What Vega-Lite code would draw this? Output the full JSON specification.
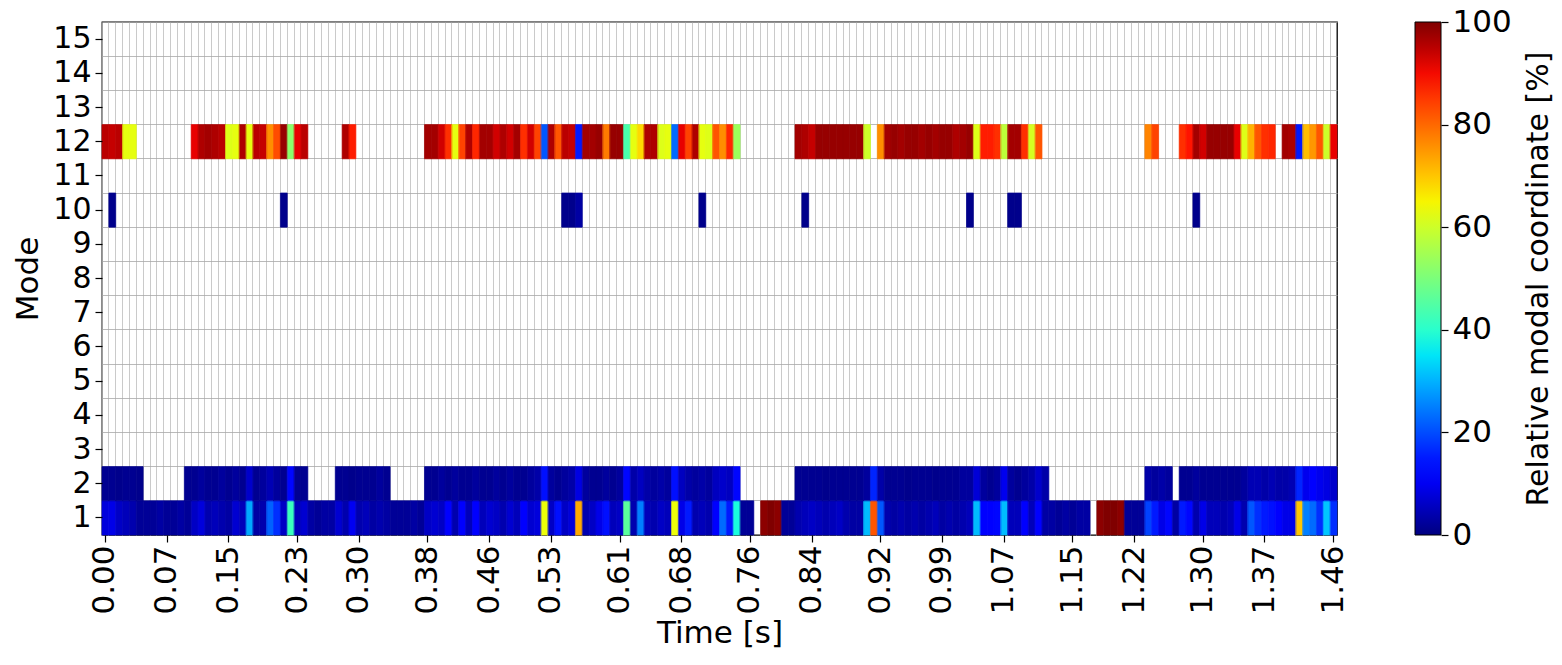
{
"$schema":"https://vega.github.io/schema/vega-lite/v6.json",
"width":1235,"height":513,
"autosize":{"type":"none"},
"padding":{"left":102,"top":22,"right":225,"bottom":130},
"background":"white",
"config":{"font":"DejaVu Sans","view":{"stroke":"black","strokeWidth":1.3},
"axis":{"labelFont":"DejaVu Sans","titleFont":"DejaVu Sans","labelColor":"black","titleColor":"black","titleFontWeight":"normal","tickColor":"black"},
"legend":{"labelFont":"DejaVu Sans","titleFont":"DejaVu Sans","titleFontWeight":"normal","labelColor":"black","titleColor":"black"}},
"data":{"values":[
{"i":0,"m":1,"v":8},{"i":1,"m":1,"v":9},{"i":2,"m":1,"v":6},{"i":3,"m":1,"v":5},{"i":4,"m":1,"v":4},{"i":5,"m":1,"v":2},{"i":6,"m":1,"v":2},{"i":7,"m":1,"v":2},{"i":8,"m":1,"v":3},{"i":9,"m":1,"v":2},
{"i":10,"m":1,"v":2},{"i":11,"m":1,"v":3},{"i":12,"m":1,"v":2},{"i":13,"m":1,"v":6},{"i":14,"m":1,"v":8},{"i":15,"m":1,"v":4},{"i":16,"m":1,"v":5},{"i":17,"m":1,"v":4},{"i":18,"m":1,"v":3},{"i":19,"m":1,"v":7},
{"i":20,"m":1,"v":5},{"i":21,"m":1,"v":29},{"i":22,"m":1,"v":3},{"i":23,"m":1,"v":4},{"i":24,"m":1,"v":22},{"i":25,"m":1,"v":17},{"i":26,"m":1,"v":6},{"i":27,"m":1,"v":42},{"i":28,"m":1,"v":5},{"i":29,"m":1,"v":7},
{"i":30,"m":1,"v":3},{"i":31,"m":1,"v":2},{"i":32,"m":1,"v":3},{"i":33,"m":1,"v":3},{"i":34,"m":1,"v":7},{"i":35,"m":1,"v":4},{"i":36,"m":1,"v":10},{"i":37,"m":1,"v":4},{"i":38,"m":1,"v":5},{"i":39,"m":1,"v":3},
{"i":40,"m":1,"v":4},{"i":41,"m":1,"v":3},{"i":42,"m":1,"v":2},{"i":43,"m":1,"v":2},{"i":44,"m":1,"v":2},{"i":45,"m":1,"v":3},{"i":46,"m":1,"v":2},{"i":47,"m":1,"v":6},{"i":48,"m":1,"v":7},{"i":49,"m":1,"v":6},
{"i":50,"m":1,"v":11},{"i":51,"m":1,"v":4},{"i":52,"m":1,"v":12},{"i":53,"m":1,"v":5},{"i":54,"m":1,"v":12},{"i":55,"m":1,"v":5},{"i":56,"m":1,"v":7},{"i":57,"m":1,"v":6},{"i":58,"m":1,"v":4},{"i":59,"m":1,"v":7},
{"i":60,"m":1,"v":5},{"i":61,"m":1,"v":11},{"i":62,"m":1,"v":7},{"i":63,"m":1,"v":8},{"i":64,"m":1,"v":64},{"i":65,"m":1,"v":6},{"i":66,"m":1,"v":14},{"i":67,"m":1,"v":6},{"i":68,"m":1,"v":8},{"i":69,"m":1,"v":73},
{"i":70,"m":1,"v":4},{"i":71,"m":1,"v":6},{"i":72,"m":1,"v":9},{"i":73,"m":1,"v":14},{"i":74,"m":1,"v":5},{"i":75,"m":1,"v":6},{"i":76,"m":1,"v":46},{"i":77,"m":1,"v":4},{"i":78,"m":1,"v":25},{"i":79,"m":1,"v":5},
{"i":80,"m":1,"v":4},{"i":81,"m":1,"v":6},{"i":82,"m":1,"v":5},{"i":83,"m":1,"v":64},{"i":84,"m":1,"v":9},{"i":85,"m":1,"v":15},{"i":86,"m":1,"v":4},{"i":87,"m":1,"v":5},{"i":88,"m":1,"v":4},{"i":89,"m":1,"v":11},
{"i":90,"m":1,"v":23},{"i":91,"m":1,"v":15},{"i":92,"m":1,"v":38},{"i":93,"m":1,"v":2},{"i":94,"m":1,"v":2},{"i":96,"m":1,"v":99},{"i":97,"m":1,"v":100},{"i":98,"m":1,"v":99},{"i":99,"m":1,"v":2},
{"i":100,"m":1,"v":2},{"i":101,"m":1,"v":4},{"i":102,"m":1,"v":5},{"i":103,"m":1,"v":6},{"i":104,"m":1,"v":5},{"i":105,"m":1,"v":4},{"i":106,"m":1,"v":5},{"i":107,"m":1,"v":6},{"i":108,"m":1,"v":4},{"i":109,"m":1,"v":3},
{"i":110,"m":1,"v":3},{"i":111,"m":1,"v":31},{"i":112,"m":1,"v":82},{"i":113,"m":1,"v":21},{"i":114,"m":1,"v":4},{"i":115,"m":1,"v":3},{"i":116,"m":1,"v":4},{"i":117,"m":1,"v":3},{"i":118,"m":1,"v":4},{"i":119,"m":1,"v":3},
{"i":120,"m":1,"v":4},{"i":121,"m":1,"v":5},{"i":122,"m":1,"v":3},{"i":123,"m":1,"v":4},{"i":124,"m":1,"v":3},{"i":125,"m":1,"v":4},{"i":126,"m":1,"v":5},{"i":127,"m":1,"v":31},{"i":128,"m":1,"v":12},{"i":129,"m":1,"v":12},
{"i":130,"m":1,"v":13},{"i":131,"m":1,"v":31},{"i":132,"m":1,"v":5},{"i":133,"m":1,"v":5},{"i":134,"m":1,"v":11},{"i":135,"m":1,"v":5},{"i":136,"m":1,"v":12},{"i":137,"m":1,"v":3},{"i":138,"m":1,"v":3},{"i":139,"m":1,"v":2},
{"i":140,"m":1,"v":3},{"i":141,"m":1,"v":2},{"i":142,"m":1,"v":3},{"i":143,"m":1,"v":3},{"i":145,"m":1,"v":99},{"i":146,"m":1,"v":100},{"i":147,"m":1,"v":100},{"i":148,"m":1,"v":99},{"i":149,"m":1,"v":2},
{"i":150,"m":1,"v":2},{"i":151,"m":1,"v":2},{"i":152,"m":1,"v":19},{"i":153,"m":1,"v":15},{"i":154,"m":1,"v":9},{"i":155,"m":1,"v":13},{"i":156,"m":1,"v":3},{"i":157,"m":1,"v":15},{"i":158,"m":1,"v":13},{"i":159,"m":1,"v":4},
{"i":160,"m":1,"v":9},{"i":161,"m":1,"v":5},{"i":162,"m":1,"v":5},{"i":163,"m":1,"v":4},{"i":164,"m":1,"v":5},{"i":165,"m":1,"v":9},{"i":166,"m":1,"v":4},{"i":167,"m":1,"v":21},{"i":168,"m":1,"v":17},{"i":169,"m":1,"v":15},
{"i":170,"m":1,"v":14},{"i":171,"m":1,"v":12},{"i":172,"m":1,"v":9},{"i":173,"m":1,"v":9},{"i":174,"m":1,"v":70},{"i":175,"m":1,"v":25},{"i":176,"m":1,"v":23},{"i":177,"m":1,"v":17},{"i":178,"m":1,"v":32},{"i":179,"m":1,"v":17},
{"i":0,"m":2,"v":1.5},{"i":1,"m":2,"v":1.5},{"i":2,"m":2,"v":1},{"i":3,"m":2,"v":1.5},{"i":4,"m":2,"v":1.5},{"i":5,"m":2,"v":1},
{"i":12,"m":2,"v":1.5},{"i":13,"m":2,"v":1.5},{"i":14,"m":2,"v":2.5},{"i":15,"m":2,"v":1.5},{"i":16,"m":2,"v":1.5},{"i":17,"m":2,"v":2.5},{"i":18,"m":2,"v":1.5},{"i":19,"m":2,"v":2.5},{"i":20,"m":2,"v":1.5},{"i":21,"m":2,"v":6.5},
{"i":22,"m":2,"v":1.5},{"i":23,"m":2,"v":2.5},{"i":24,"m":2,"v":4.5},{"i":25,"m":2,"v":2.5},{"i":26,"m":2,"v":1.5},{"i":27,"m":2,"v":13},{"i":28,"m":2,"v":1.5},{"i":29,"m":2,"v":1.5},
{"i":34,"m":2,"v":1.5},{"i":35,"m":2,"v":1.5},{"i":36,"m":2,"v":1},{"i":37,"m":2,"v":1.5},{"i":38,"m":2,"v":1.5},{"i":39,"m":2,"v":1.5},{"i":40,"m":2,"v":2.5},{"i":41,"m":2,"v":1.5},
{"i":47,"m":2,"v":1.5},{"i":48,"m":2,"v":1.5},{"i":49,"m":2,"v":2.5},{"i":50,"m":2,"v":1.5},{"i":51,"m":2,"v":2.5},{"i":52,"m":2,"v":1.5},{"i":53,"m":2,"v":1.5},{"i":54,"m":2,"v":2.5},{"i":55,"m":2,"v":1.5},{"i":56,"m":2,"v":1.5},
{"i":57,"m":2,"v":2.5},{"i":58,"m":2,"v":1.5},{"i":59,"m":2,"v":2.5},{"i":60,"m":2,"v":1.5},{"i":61,"m":2,"v":1.5},{"i":62,"m":2,"v":2.5},{"i":63,"m":2,"v":3.5},{"i":64,"m":2,"v":14},{"i":65,"m":2,"v":2.5},{"i":66,"m":2,"v":1.5},
{"i":67,"m":2,"v":2.5},{"i":68,"m":2,"v":3.5},{"i":69,"m":2,"v":8.5},{"i":70,"m":2,"v":2.5},{"i":71,"m":2,"v":1.5},{"i":72,"m":2,"v":1.5},{"i":73,"m":2,"v":2.5},{"i":74,"m":2,"v":1.5},{"i":75,"m":2,"v":2.5},{"i":76,"m":2,"v":13},
{"i":77,"m":2,"v":3.5},{"i":78,"m":2,"v":5.5},{"i":79,"m":2,"v":3.5},{"i":80,"m":2,"v":2.5},{"i":81,"m":2,"v":3.5},{"i":82,"m":2,"v":2.5},{"i":83,"m":2,"v":14},{"i":84,"m":2,"v":5.5},{"i":85,"m":2,"v":3.5},{"i":86,"m":2,"v":2.5},
{"i":87,"m":2,"v":3.5},{"i":88,"m":2,"v":2.5},{"i":89,"m":2,"v":5.5},{"i":90,"m":2,"v":6.5},{"i":91,"m":2,"v":5.5},{"i":92,"m":2,"v":13},
{"i":101,"m":2,"v":1.5},{"i":102,"m":2,"v":1.5},{"i":103,"m":2,"v":1.5},{"i":104,"m":2,"v":1.5},{"i":105,"m":2,"v":1},{"i":106,"m":2,"v":1.5},{"i":107,"m":2,"v":1.5},{"i":108,"m":2,"v":1.5},{"i":109,"m":2,"v":1.5},{"i":110,"m":2,"v":1.5},
{"i":111,"m":2,"v":2.5},{"i":112,"m":2,"v":16},{"i":113,"m":2,"v":3.5},{"i":114,"m":2,"v":1.5},{"i":115,"m":2,"v":1.5},{"i":116,"m":2,"v":1.5},{"i":117,"m":2,"v":1},{"i":118,"m":2,"v":1.5},{"i":119,"m":2,"v":1.5},{"i":120,"m":2,"v":1.5},
{"i":121,"m":2,"v":1},{"i":122,"m":2,"v":1.5},{"i":123,"m":2,"v":1.5},{"i":124,"m":2,"v":1.5},{"i":125,"m":2,"v":2.5},{"i":126,"m":2,"v":2.5},{"i":127,"m":2,"v":7.5},{"i":128,"m":2,"v":2.5},{"i":129,"m":2,"v":1.5},{"i":130,"m":2,"v":2.5},
{"i":131,"m":2,"v":9.5},{"i":132,"m":2,"v":2.5},{"i":133,"m":2,"v":1.5},{"i":134,"m":2,"v":2.5},{"i":135,"m":2,"v":3.5},{"i":136,"m":2,"v":6.5},{"i":137,"m":2,"v":3.5},
{"i":152,"m":2,"v":3.5},{"i":153,"m":2,"v":2.5},{"i":154,"m":2,"v":3.5},{"i":155,"m":2,"v":2.5},
{"i":157,"m":2,"v":1.5},{"i":158,"m":2,"v":1.5},{"i":159,"m":2,"v":2.5},{"i":160,"m":2,"v":1.5},{"i":161,"m":2,"v":1.5},{"i":162,"m":2,"v":1.5},{"i":163,"m":2,"v":1.5},{"i":164,"m":2,"v":1.5},{"i":165,"m":2,"v":1.5},{"i":166,"m":2,"v":2.5},
{"i":167,"m":2,"v":4.5},{"i":168,"m":2,"v":4.5},{"i":169,"m":2,"v":3.5},{"i":170,"m":2,"v":4.5},{"i":171,"m":2,"v":3.5},{"i":172,"m":2,"v":3.5},{"i":173,"m":2,"v":4.5},{"i":174,"m":2,"v":16},{"i":175,"m":2,"v":9.5},{"i":176,"m":2,"v":11},
{"i":177,"m":2,"v":9.5},{"i":178,"m":2,"v":8.5},{"i":179,"m":2,"v":6.5},
{"i":1,"m":10,"v":1},{"i":26,"m":10,"v":1},{"i":67,"m":10,"v":1},{"i":68,"m":10,"v":1},{"i":69,"m":10,"v":3},{"i":87,"m":10,"v":1},{"i":102,"m":10,"v":1},{"i":126,"m":10,"v":1},{"i":132,"m":10,"v":1},{"i":133,"m":10,"v":1},{"i":159,"m":10,"v":1},
{"i":0,"m":12,"v":95},{"i":1,"m":12,"v":94},{"i":2,"m":12,"v":95},{"i":3,"m":12,"v":63},{"i":4,"m":12,"v":63},
{"i":13,"m":12,"v":91},{"i":14,"m":12,"v":96},{"i":15,"m":12,"v":97},{"i":16,"m":12,"v":96},{"i":17,"m":12,"v":95},{"i":18,"m":12,"v":62},{"i":19,"m":12,"v":63},{"i":20,"m":12,"v":96},{"i":21,"m":12,"v":63},{"i":22,"m":12,"v":95},
{"i":23,"m":12,"v":94},{"i":24,"m":12,"v":76},{"i":25,"m":12,"v":83},{"i":26,"m":12,"v":98},{"i":27,"m":12,"v":52},{"i":28,"m":12,"v":91},{"i":29,"m":12,"v":95},
{"i":35,"m":12,"v":96},{"i":36,"m":12,"v":88},
{"i":47,"m":12,"v":97},{"i":48,"m":12,"v":97},{"i":49,"m":12,"v":93},{"i":50,"m":12,"v":86},{"i":51,"m":12,"v":63},{"i":52,"m":12,"v":84},{"i":53,"m":12,"v":96},{"i":54,"m":12,"v":87},{"i":55,"m":12,"v":97},{"i":56,"m":12,"v":97},
{"i":57,"m":12,"v":93},{"i":58,"m":12,"v":96},{"i":59,"m":12,"v":93},{"i":60,"m":12,"v":97},{"i":61,"m":12,"v":86},{"i":62,"m":12,"v":93},{"i":63,"m":12,"v":84},{"i":64,"m":12,"v":21},{"i":65,"m":12,"v":96},{"i":66,"m":12,"v":82},
{"i":67,"m":12,"v":95},{"i":68,"m":12,"v":94},{"i":69,"m":12,"v":15},{"i":70,"m":12,"v":97},{"i":71,"m":12,"v":97},{"i":72,"m":12,"v":98},{"i":73,"m":12,"v":78},{"i":74,"m":12,"v":98},{"i":75,"m":12,"v":98},{"i":76,"m":12,"v":44},
{"i":77,"m":12,"v":63},{"i":78,"m":12,"v":68},{"i":79,"m":12,"v":96},{"i":80,"m":12,"v":96},{"i":81,"m":12,"v":62},{"i":82,"m":12,"v":63},{"i":83,"m":12,"v":23},{"i":84,"m":12,"v":91},{"i":85,"m":12,"v":84},{"i":86,"m":12,"v":96},
{"i":87,"m":12,"v":63},{"i":88,"m":12,"v":62},{"i":89,"m":12,"v":82},{"i":90,"m":12,"v":76},{"i":91,"m":12,"v":87},{"i":92,"m":12,"v":54},
{"i":101,"m":12,"v":97},{"i":102,"m":12,"v":96},{"i":103,"m":12,"v":94},{"i":104,"m":12,"v":98},{"i":105,"m":12,"v":98},{"i":106,"m":12,"v":98},{"i":107,"m":12,"v":98},{"i":108,"m":12,"v":98},{"i":109,"m":12,"v":98},{"i":110,"m":12,"v":98},
{"i":111,"m":12,"v":60},{"i":113,"m":12,"v":76},{"i":114,"m":12,"v":97},{"i":115,"m":12,"v":98},{"i":116,"m":12,"v":97},{"i":117,"m":12,"v":98},{"i":118,"m":12,"v":98},{"i":119,"m":12,"v":97},{"i":120,"m":12,"v":98},{"i":121,"m":12,"v":97},
{"i":122,"m":12,"v":98},{"i":123,"m":12,"v":98},{"i":124,"m":12,"v":96},{"i":125,"m":12,"v":97},{"i":126,"m":12,"v":98},{"i":127,"m":12,"v":62},{"i":128,"m":12,"v":88},{"i":129,"m":12,"v":88},{"i":130,"m":12,"v":86},{"i":131,"m":12,"v":58},
{"i":132,"m":12,"v":97},{"i":133,"m":12,"v":97},{"i":134,"m":12,"v":86},{"i":135,"m":12,"v":61},{"i":136,"m":12,"v":82},
{"i":152,"m":12,"v":77},{"i":153,"m":12,"v":84},
{"i":157,"m":12,"v":86},{"i":158,"m":12,"v":89},{"i":159,"m":12,"v":97},{"i":160,"m":12,"v":93},{"i":161,"m":12,"v":98},{"i":162,"m":12,"v":98},{"i":163,"m":12,"v":98},{"i":164,"m":12,"v":98},{"i":165,"m":12,"v":91},{"i":166,"m":12,"v":62},
{"i":167,"m":12,"v":72},{"i":168,"m":12,"v":82},{"i":169,"m":12,"v":86},{"i":170,"m":12,"v":87},{"i":172,"m":12,"v":97},{"i":173,"m":12,"v":96},{"i":174,"m":12,"v":15},{"i":175,"m":12,"v":71},{"i":176,"m":12,"v":75},{"i":177,"m":12,"v":82},
{"i":178,"m":12,"v":60},{"i":179,"m":12,"v":91}
]},
"layer":[
{"mark":{"type":"rect"},
"encoding":{
"x":{"field":"i","type":"ordinal","scale":{"domain":[0,1,2,3,4,5,6,7,8,9,10,11,12,13,14,15,16,17,18,19,20,21,22,23,24,25,26,27,28,29,30,31,32,33,34,35,36,37,38,39,40,41,42,43,44,45,46,47,48,49,50,51,52,53,54,55,56,57,58,59,60,61,62,63,64,65,66,67,68,69,70,71,72,73,74,75,76,77,78,79,80,81,82,83,84,85,86,87,88,89,90,91,92,93,94,95,96,97,98,99,100,101,102,103,104,105,106,107,108,109,110,111,112,113,114,115,116,117,118,119,120,121,122,123,124,125,126,127,128,129,130,131,132,133,134,135,136,137,138,139,140,141,142,143,144,145,146,147,148,149,150,151,152,153,154,155,156,157,158,159,160,161,162,163,164,165,166,167,168,169,170,171,172,173,174,175,176,177,178,179],"paddingInner":0,"paddingOuter":0},
"axis":{"orient":"bottom","bandPosition":0,"grid":true,"gridColor":"#bcbcbc","gridWidth":0.8,"labels":false,"ticks":false,"domain":false,"title":null,"zindex":0}},
"y":{"field":"m","type":"ordinal","scale":{"domain":[15,14,13,12,11,10,9,8,7,6,5,4,3,2,1],"paddingInner":0,"paddingOuter":0},
"axis":{"orient":"left","bandPosition":0,"grid":true,"gridColor":"#a8a8a8","gridWidth":0.8,"labels":false,"ticks":false,"domain":false,"title":null,"zindex":0}},
"color":{"field":"v","type":"quantitative",
"scale":{"type":"linear","domain":[0,11,12.5,34,35,37.5,64,65,66,89,91,100],"range":["#000080","#0000ff","#0000ff","#00dbff","#00e5f7","#14ffe2","#eeff08","#f7f500","#ffec00","#ff1300","#e80000","#800000"],"interpolate":"rgb"},
"legend":{"type":"gradient","orient":"none","legendX":1313,"legendY":0,"direction":"vertical","gradientLength":513,"gradientThickness":26,"gradientStrokeColor":"black","gradientStrokeWidth":1,"values":[0,100],"labelExpr":"''","labelOpacity":0,"labelFontSize":1,"title":null,"padding":0}}
}},
{"mark":{"type":"rect","filled":false,"strokeWidth":0.7},
"encoding":{
"x":{"field":"i","type":"ordinal","axis":null},
"y":{"field":"m","type":"ordinal","scale":{"domain":[15,14,13,12,11,10,9,8,7,6,5,4,3,2,1],"paddingInner":0,"paddingOuter":0},"axis":null},
"stroke":{"field":"v","type":"quantitative",
"scale":{"type":"linear","domain":[-0.01,11,12.5,34,35,37.5,64,65,66,89,91,100.01],"range":["#000080","#0000ff","#0000ff","#00dbff","#00e5f7","#14ffe2","#eeff08","#f7f500","#ffec00","#ff1300","#e80000","#800000"],"interpolate":"rgb"},
"legend":null}
}},
{"mark":{"type":"rect","opacity":0},
"encoding":{
"x":{"field":"i","type":"ordinal","axis":{"orient":"bottom","values":[0,9,18,28,37,47,56,65,75,84,94,103,113,122,131,141,150,160,169,179],"labelExpr":"format(datum.value*0.008132,'.2f')","labelAngle":-90,"labelFontSize":31,"tickSize":7,"tickWidth":1.2,"labelPadding":3,"domain":false,"grid":false,"title":"Time [s]","titleFontSize":31,"titlePadding":4}},
"y":{"field":"m","type":"ordinal","scale":{"domain":[15,14,13,12,11,10,9,8,7,6,5,4,3,2,1],"paddingInner":0,"paddingOuter":0},"axis":{"orient":"left","labelFontSize":30,"tickSize":7,"tickWidth":1.2,"labelPadding":4,"domain":false,"grid":false,"title":"Mode","titleFontSize":31,"titlePadding":8}}
}},
{"mark":{"type":"point","opacity":0},
"encoding":{
"y":{"field":"v","type":"quantitative","scale":{"domain":[0,100],"nice":false,"zero":false},"axis":{"orient":"right","offset":104,"values":[0,20,40,60,80,100],"labelFontSize":31,"tickSize":7,"tickWidth":1.2,"labelPadding":4,"domain":false,"grid":false,"title":"Relative modal coordinate [%]","titleFontSize":30,"titleAngle":270,"titleBaseline":"top","titlePadding":12,"titleLimit":700}}
}}
],
"resolve":{"scale":{"y":"independent"},"axis":{"x":"independent","y":"independent"}}
}
